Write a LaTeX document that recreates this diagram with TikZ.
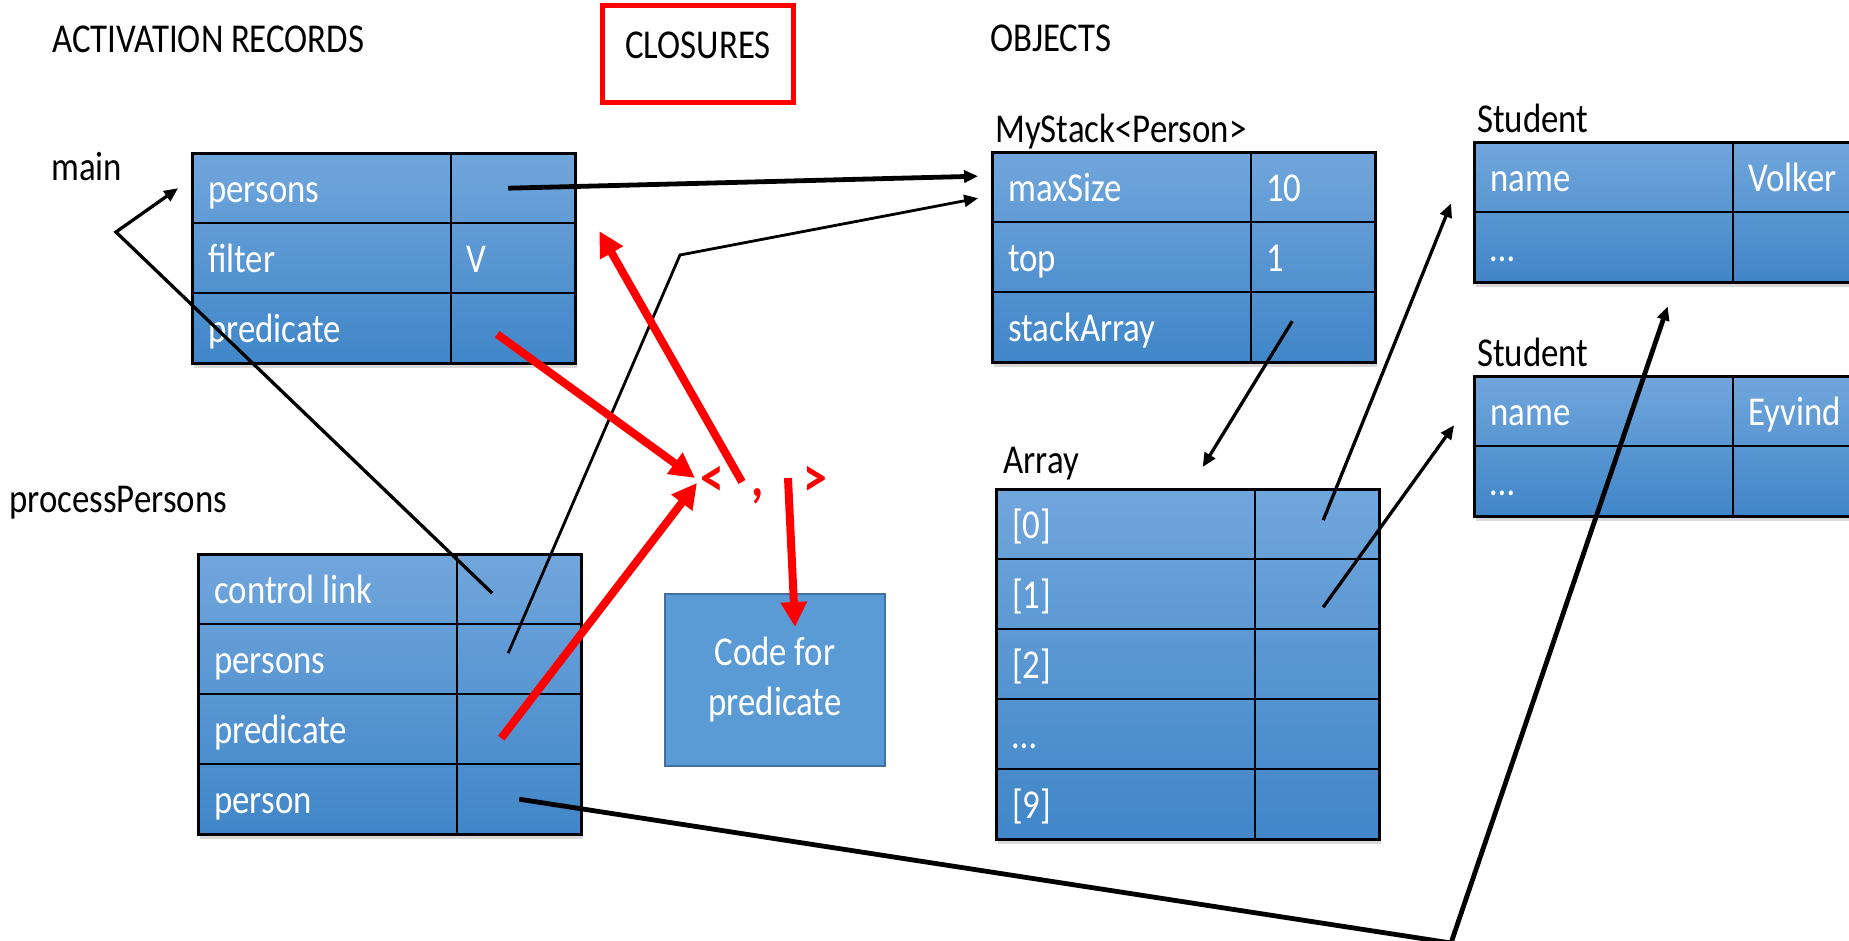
\documentclass[tikz,border=0pt]{standalone}
\usepackage{fontspec}
\setmainfont{Carlito}[FakeStretch=0.85, WordSpace=0.95]
\usetikzlibrary{arrows.meta, matrix, backgrounds, shadows}
\definecolor{tabtop}{RGB}{113,166,220}
\definecolor{tabbot}{RGB}{64,134,200}
\definecolor{codefill}{RGB}{91,155,213}
\definecolor{codeedge}{RGB}{65,113,156}

\begin{document}
\begin{tikzpicture}[x=1pt, y=-1pt, font=\fontsize{41}{50}\selectfont,
    lbl/.style={anchor=base west, inner sep=0pt},
    cell/.style={draw, line width=2.2pt, anchor=center, minimum height=70pt, inner ysep=0pt, text height=38pt, text depth=10pt, text=white, align=flush left},
    keycell/.style={cell, minimum width=259pt, inner xsep=16pt, text width=227pt},
    valcell/.style={cell, minimum width=124pt, inner xsep=15pt, text width=94pt},
    memtab/.style={matrix of nodes, nodes in empty cells, anchor=north west, inner sep=-1.1pt, row sep=-2.2pt, column sep=-2.2pt, column 1/.style={nodes={keycell}}, column 2/.style={nodes={valcell}}},
    tabshade/.style={top color=tabtop, bottom color=tabbot, drop shadow={shadow xshift=2pt, shadow yshift=-5pt, opacity=0.3}},
    closchar/.style={lbl, red, font=\fontsize{56}{56}\selectfont\bfseries},
    ptr/.style={line width=3.3pt, -{Triangle[length=14pt,width=12pt]}},
    closptr/.style={red, line width=8pt, -{Triangle[length=25pt,width=25pt]}}]
    \useasboundingbox (0,0) rectangle (1849,940);
    \clip (0,0) rectangle (1849,940);

    \node (actrec) [lbl] at (52,52) {ACTIVATION RECORDS};
    \node (closures) [draw=red, line width=5pt, minimum width=191pt, minimum height=97pt, inner sep=0pt, text height=26pt, text depth=18pt] at (698,54) {CLOSURES};
    \node (objects) [lbl] at (990,51) {OBJECTS};
    \node (mainlbl) [lbl] at (51,180) {main};
    \node (pplbl) [lbl] at (9,512) {processPersons};
    \node (stacklbl) [lbl] at (995,142) {MyStack<Person>};
    \node (arrlbl) [lbl] at (1003,473) {Array};
    \node (stualbl) [lbl] at (1477,132) {Student};
    \node (stublbl) [lbl] at (1477,366) {Student};

    \matrix (mainT) [memtab] at (192,153) {
        persons & \\
        filter & V \\
        predicate & \\
    };
    \matrix (ppT) [memtab] at (198,554) {
        control link & \\
        persons & \\
        predicate & \\
        person & \\
    };
    \matrix (stackT) [memtab] at (992,152) {
        maxSize & 10 \\
        top & 1 \\
        stackArray & \\
    };
    \matrix (arrT) [memtab] at (996,489) {
        {[0]} & \\
        {[1]} & \\
        {[2]} & \\
        … & \\
        {[9]} & \\
    };
    \matrix (stuaT) [memtab] at (1474,142) {
        name & Volker \\
        … & \\
    };
    \matrix (stubT) [memtab] at (1474,376) {
        name & Eyvind \\
        … & \\
    };
    \begin{scope}[on background layer]
        \foreach \t in {mainT, ppT, stackT, arrT, stuaT, stubT}
            \path[tabshade] (\t.north west) rectangle (\t.south east);
    \end{scope}
    \foreach \t in {mainT, ppT, stackT, arrT, stuaT, stubT}
        \draw[line width=3pt] (\t.north west) rectangle (\t.south east);

    \node (lt) [closchar] at (700,496) {<};
    \node (comma) [closchar] at (751,496) {,};
    \node (gt) [closchar] at (803,496) {>};
    \node (code) [fill=codefill, draw=codeedge, line width=2pt, minimum width=220pt, minimum height=172pt, text=white, align=center] at (775,680) {Code for\\predicate};

    \coordinate (ctlbend) at (116,232);
    \coordinate (ppbend) at (680,255);
    \coordinate (personbend) at (1451,943);
    \coordinate (envptr) at (742,482);
    \coordinate (codeptr) at (788,478);

    \draw[ptr] ([xshift=-27pt,yshift=-4pt]ppT-1-2.center) -- (ctlbend) -- ([xshift=-13pt]mainT-1-1.west);
    \draw[ptr, line width=4.8pt] ([xshift=-5pt]mainT-1-2.center) -- ([xshift=-13pt,yshift=11pt]stackT-1-1.west);
    \draw[ptr, line width=2.8pt] ([xshift=-11pt,yshift=6pt]ppT-2-2.center) -- (ppbend) -- ([xshift=-13pt,yshift=-11pt]stackT-1-1.west);
    \draw[ptr] ([xshift=-21pt,yshift=6pt]stackT-3-2.center) -- ([xshift=15pt,yshift=22pt]arrT.north);
    \draw[ptr] ([xshift=6pt,yshift=4pt]arrT-1-2.center) -- ([xshift=-22pt,yshift=10pt]stuaT-1-1.south west);
    \draw[ptr] ([xshift=6pt,yshift=-13pt]arrT-2-2.center) -- ([xshift=-19pt,yshift=-14pt]stubT-1-1.west);
    \draw[ptr, line width=4.8pt] (ppT-4-2.center) -- (personbend) -- ([xshift=64pt,yshift=-23pt]stuaT-2-1.south);

    \draw[closptr] ([xshift=-16pt,yshift=-6pt]mainT-3-2.center) -- ([xshift=-5pt,yshift=3pt]lt.west);
    \draw[closptr] ([xshift=-18pt,yshift=-9pt]ppT-3-2.center) -- ([xshift=-3pt,yshift=-2pt]lt.west);
    \draw[closptr] (envptr) -- ([xshift=23pt,yshift=-9pt]mainT-2-2.north east);
    \draw[closptr] (codeptr) -- ([xshift=20pt,yshift=-34pt]code.north);
\end{tikzpicture}
\end{document}
